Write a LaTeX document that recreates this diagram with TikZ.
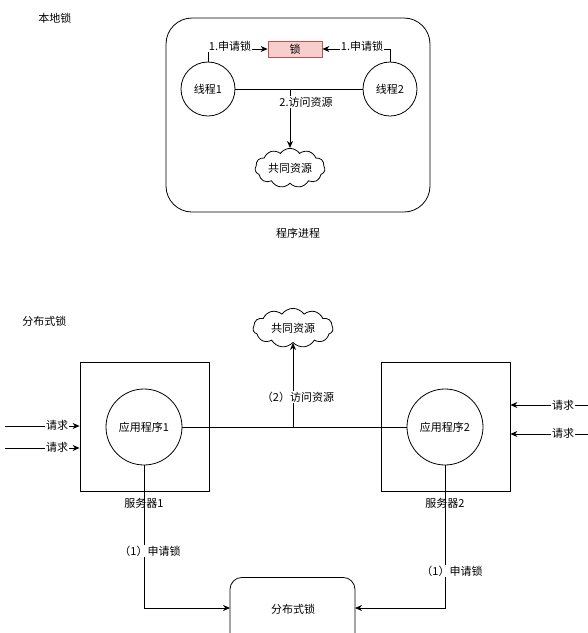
\documentclass[tikz,border=0pt]{standalone}
\usepackage{fontspec}
\setmainfont{Noto Sans CJK SC}
\usetikzlibrary{shapes.symbols,arrows.meta}
\definecolor{lockfill}{HTML}{F8CECC}
\definecolor{lockdraw}{HTML}{B85450}
\tikzset{
  txt/.style={font=\fontsize{11}{13}\selectfont, inner sep=1pt},
  lbl/.style={txt, fill=white},
  circ/.style={circle, draw, minimum size=54pt, inner sep=0pt, txt},
  bigcirc/.style={circle, draw, minimum size=76pt, inner sep=0pt, txt},
  arr/.style={-{Stealth[length=7pt,width=6pt]}},
  cloudn/.style={cloud, draw, cloud puffs=11, cloud puff arc=110, aspect=2.1, inner sep=0pt, txt},
  srv/.style={draw, minimum width=129pt, minimum height=129pt, inner sep=0pt},
}
\begin{document}
\begin{tikzpicture}[x=1pt,y=-1pt, line width=0.8pt]
\useasboundingbox (0,0) rectangle (588,633);
\clip (0,0) rectangle (588,633);
% ---------- local lock ----------
\node[txt, anchor=west] (t_local) at (37,18) {本地锁};
\node[draw, rounded corners=26pt, minimum width=264pt, minimum height=194pt] (proc) at (298,115) {};
\node[txt] (t_proc) at (298,233) {程序进程};
\node[draw=lockdraw, fill=lockfill, minimum width=54pt, minimum height=16pt, inner sep=0pt, txt] (lock) at (295,49) {锁};
\node[circ] (th1) at (208,89) {线程1};
\node[circ] (th2) at (390,89) {线程2};
\node[cloudn, minimum width=70pt, minimum height=34pt] (res1) at (290,168) {共同资源};
\draw[arr] (th1.north) |- (lock.west);
\draw[arr] (th2.north) |- (lock.east);
\node[lbl] (l1) at (230,46) {1.申请锁};
\node[lbl] (l2) at (362,46) {1.申请锁};
\draw (th1.east) -- (th2.west);
\coordinate (mid1) at (290,89);
\draw[arr] (mid1) -- (res1.north);
\node[lbl] (l3) at (306,102) {2.访问资源};
% ---------- distributed lock ----------
\node[txt, anchor=west] (t_dist) at (21,321) {分布式锁};
\node[cloudn, minimum width=80pt, minimum height=36pt] (res2) at (293,328) {共同资源};
\node[srv] (s1) at (144.5,426.5) {};
\node[srv] (s2) at (445.5,426.5) {};
\node[bigcirc] (a1) at (144,427) {应用程序1};
\node[bigcirc] (a2) at (445,427) {应用程序2};
\node[txt] (n1) at (144,503) {服务器1};
\node[txt] (n2) at (445,503) {服务器2};
\draw (a1.east) -- (a2.west);
\coordinate (mid2) at (293,427);
\draw[arr] (mid2) -- (res2.south);
\node[lbl] (l4) at (298,397) {（2）访问资源};
% requests
\coordinate (rl1) at (5,426);
\coordinate (rl2) at (5,448);
\coordinate (rr1) at (588,405);
\coordinate (rr2) at (588,434);
\draw[arr] (rl1) -- (rl1 -| s1.west);
\draw[arr] (rl2) -- (rl2 -| s1.west);
\draw[arr] (rr1) -- (rr1 -| s2.east);
\draw[arr] (rr2) -- (rr2 -| s2.east);
\node[lbl] (q1) at (57,425) {请求};
\node[lbl] (q2) at (57,447) {请求};
\node[lbl] (q3) at (563,405) {请求};
\node[lbl] (q4) at (563,433) {请求};
% distributed lock box
\node[draw, rounded corners=12pt, minimum width=125pt, minimum height=90pt, anchor=north, txt] (dlock) at (292.5,577) {};
\node[txt] (t_dlock) at (293,609) {分布式锁};
\coordinate (dl) at (230,608);
\coordinate (dr) at (355,608);
\draw[arr] (a1.south) |- (dl);
\draw[arr] (a2.south) |- (dr);
\node[lbl] (l5) at (150,551) {（1）申请锁};
\node[lbl] (l6) at (452,571) {（1）申请锁};
\end{tikzpicture}
\end{document}
